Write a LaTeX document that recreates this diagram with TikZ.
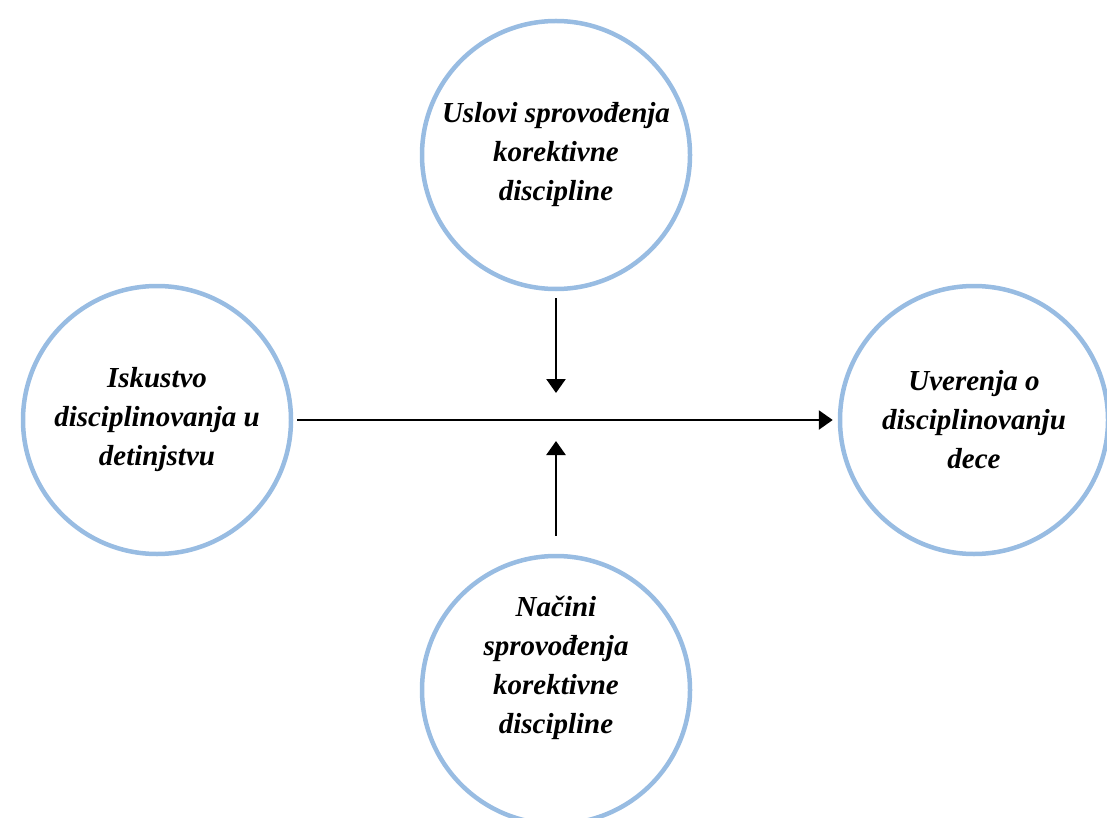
\documentclass[tikz,border=0pt]{standalone}
\usepackage{fontspec}
\setmainfont{Liberation Serif}
\usetikzlibrary{arrows.meta}
\definecolor{ring}{RGB}{152,188,226}
\begin{document}
\begin{tikzpicture}[x=1pt,y=-1pt,
  bubble/.style={circle,draw=ring,line width=4.5pt,minimum size=268pt,inner sep=0pt,align=center,
    font=\fontsize{29}{39}\selectfont\bfseries\itshape},
  txt/.style={align=center,inner sep=0pt,font=\fontsize{29}{39}\selectfont\bfseries\itshape},
  conn/.style={line width=2.6pt,-{Triangle[length=14pt,width=19pt]}}]
\useasboundingbox (0,0) rectangle (1107,818);
\node[bubble] (top) at (556,155) {Uslovi sprovođenja\\korektivne\\discipline};
\node[bubble] (left) at (157,420) {Iskustvo\\disciplinovanja u\\detinjstvu};
\node[bubble] (right) at (974,420) {Uverenja o\\disciplinovanju\\dece};
\node[bubble] (bot) at (556,690) {};
\node[txt] (botlbl) at (556,668) {Načini\\sprovođenja\\korektivne\\discipline};
\coordinate (dn) at (556,393);
\coordinate (up) at (556,441);
\draw[conn] (left.east) ++(4,0) -- ([xshift=-5pt]right.west);
\draw[conn] ([yshift=-7pt]top.south) -- (dn);
\draw[conn] ([yshift=18pt]bot.north) -- (up);
\end{tikzpicture}
\end{document}
